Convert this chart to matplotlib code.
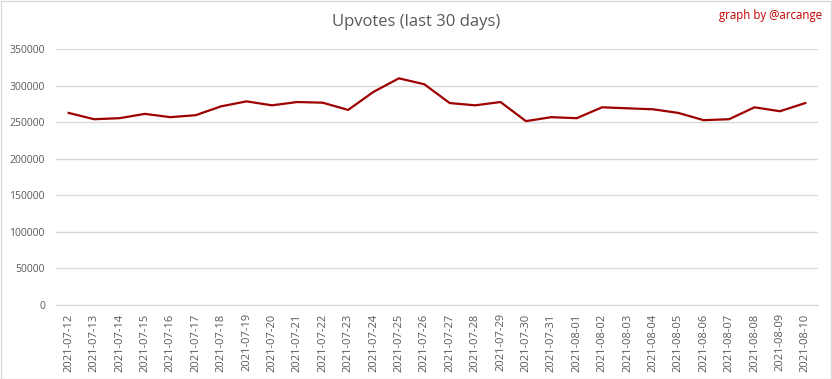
import matplotlib.pyplot as plt
import pandas as pd

dates = pd.date_range('2021-07-12', '2021-08-10').strftime('%Y-%m-%d').tolist()
upvotes = [262600, 254000, 255400, 261300, 256800, 259500, 271600, 278400,
           273000, 277500, 276600, 266700, 291400, 309900, 301800, 276100,
           273000, 277500, 251400, 256800, 255400, 270300, 268900, 267600,
           262600, 252700, 254000, 270300, 264900, 276100]
yticks = list(range(0, 350001, 50000))

plt.rcParams['font.family'] = ['Open Sans', 'DejaVu Sans']

W, H = 832, 379
fig = plt.figure(figsize=(W / 100, H / 100), dpi=100)
ax = fig.add_axes([56 / W, 1 - 305 / H, (818 - 56) / W, (305 - 49) / H])

x = range(len(dates))
ax.plot(x, upvotes, color='#9e0000', linewidth=1.6)

ax.set_xlim(-0.5, len(dates) - 0.5)
ax.set_ylim(0, 350000)
ax.set_yticks(yticks)
ax.set_yticklabels([str(v) for v in yticks], fontsize=7.5, color='#595959')
ax.set_xticks(list(x))
ax.set_xticklabels(dates, rotation=90, fontsize=8, color='#595959')
ax.tick_params(axis='both', length=0, pad=6)
ax.tick_params(axis='y', pad=8)

ax.grid(axis='y', color='#d9d9d9', linewidth=1)
ax.set_axisbelow(True)
for s in ['top', 'right', 'left']:
    ax.spines[s].set_visible(False)
ax.spines['bottom'].set_color('#d9d9d9')

fig.text(416 / W, 1 - 22 / H, 'Upvotes (last 30 days)', ha='center', va='center',
         fontsize=12, color='#595959')
fig.text(822 / W, 1 - 16 / H, 'graph by @arcange', ha='right', va='center',
         fontsize=8.3, color='#c00000')

# light frame round the whole picture
fig.patches.append(plt.Rectangle((0.5 / W, 0.5 / H), 1 - 1.5 / W, 1 - 1.5 / H,
                                 transform=fig.transFigure, fill=False,
                                 edgecolor='#d9d9d9', linewidth=1))

fig.savefig('out.png', dpi=100)
